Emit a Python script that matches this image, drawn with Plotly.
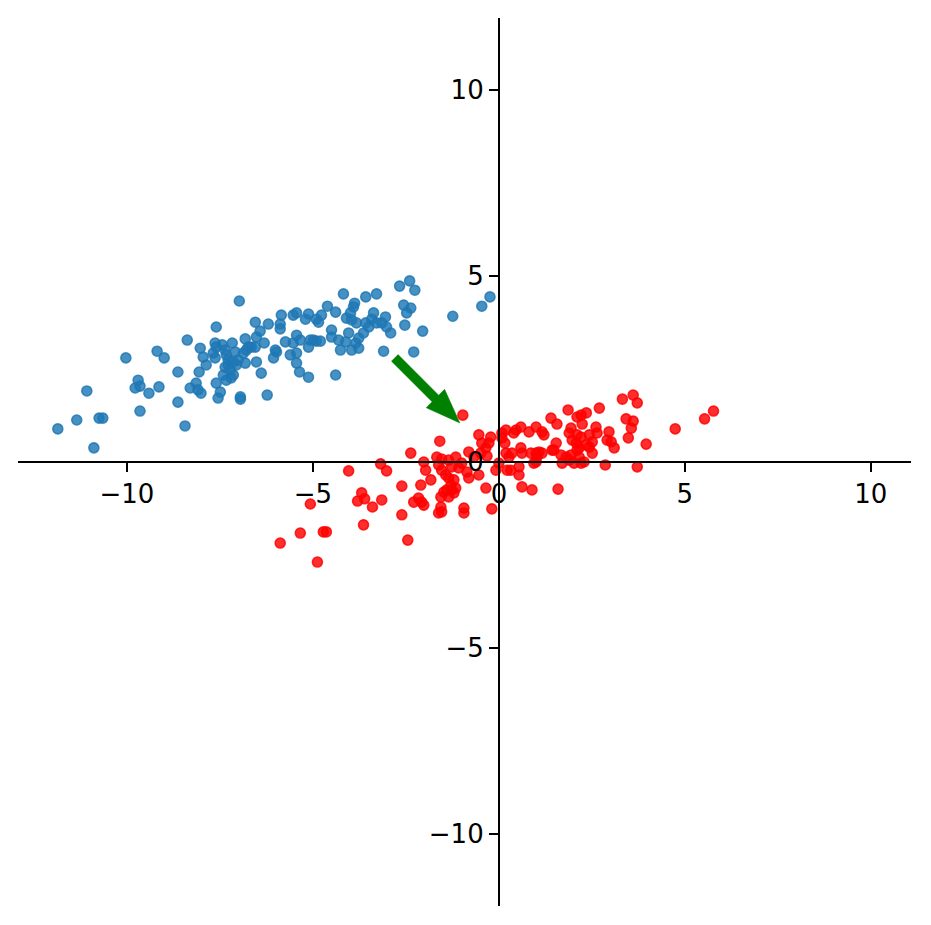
import numpy as np
import plotly.graph_objects as go

# ---- data ----
blue_x = [-11.86, -11.35, -11.08, -10.89, -10.75, -10.65, -10.03, -9.78, -9.70, -9.65,
          -9.65, -9.41, -9.19, -9.14, -9.00, -8.63, -8.63, -8.44, -8.38, -8.30,
          -8.14, -8.09, -8.01, -8.06, -8.03, -7.95, -7.87, -7.60, -7.60, -7.49,
          -7.55, -6.95, -6.95, -6.98, -6.23, -6.55, -6.20, -5.85, -5.53, -5.44,
          -5.12, -5.20, -5.88, -5.88, -6.42, -6.52, -6.82, -6.31, -6.55, -6.74,
          -7.17, -7.44, -7.63, -7.60, -7.68, -7.63, -7.36, -7.33, -7.28, -7.28,
          -7.09, -7.01, -7.06, -6.87, -6.79, -6.66, -6.52, -6.82, -7.14, -7.41,
          -7.33, -7.20, -7.14, -7.36, -7.22, -6.39, -6.01, -5.98, -6.06, -5.74,
          -5.53, -5.44, -5.34, -5.61, -5.44, -5.44, -5.36, -5.12, -5.07, -5.12,
          -4.18, -3.29, -3.58, -3.88, -3.91, -4.61, -4.39, -4.77, -4.85, -4.91,
          -3.99, -4.10, -3.96, -3.37, -3.42, -3.29, -3.05, -3.02, -2.91, -3.83,
          -3.58, -3.50, -3.64, -3.77, -3.85, -3.77, -4.04, -4.50, -4.50, -4.99,
          -4.91, -4.80, -4.31, -4.26, -4.12, -3.96, -3.10, -4.39, -2.67, -2.40,
          -2.26, -2.56, -2.37, -2.48, -3.15, -2.53, -2.05, -1.24, -0.46, -0.24,
          -2.29]
blue_y = [0.89, 1.13, 1.91, 0.38, 1.18, 1.18, 2.80, 1.99, 2.20, 2.04,
          1.37, 1.85, 2.98, 2.02, 2.80, 2.42, 1.61, 0.97, 3.28, 1.99,
          2.12, 1.94, 1.85, 2.42, 3.06, 2.82, 2.61, 3.63, 2.12, 1.88,
          1.72, 1.75, 1.69, 4.33, 1.80, 3.76, 3.71, 3.95, 3.95, 4.01,
          3.98, 3.84, 3.71, 3.58, 3.52, 3.36, 3.31, 3.20, 3.09, 3.09,
          3.20, 3.15, 3.20, 3.09, 2.93, 2.80, 3.01, 2.88, 2.74, 2.61,
          2.96, 2.74, 2.61, 2.93, 3.01, 3.09, 2.69, 2.66, 2.69, 2.34,
          2.20, 2.26, 2.34, 2.55, 2.47, 2.39, 3.01, 2.96, 2.80, 3.23,
          3.20, 3.41, 3.28, 2.88, 2.93, 2.66, 2.42, 3.09, 3.28, 2.28,
          4.52, 4.52, 4.44, 4.27, 4.17, 4.19, 4.03, 3.95, 3.76, 3.84,
          4.01, 3.87, 3.82, 4.01, 3.84, 3.74, 3.90, 3.63, 3.47, 3.74,
          3.74, 3.63, 3.47, 3.33, 3.20, 3.06, 3.47, 3.55, 3.36, 3.28,
          3.25, 3.25, 3.28, 3.01, 3.23, 3.01, 2.98, 2.34, 4.73, 4.87,
          4.62, 4.22, 4.14, 4.01, 3.74, 3.68, 3.52, 3.92, 4.19, 4.44,
          2.96]

red_x = [-0.97, -1.59, -2.37, -0.54, -0.22, 0.08, 0.19, -0.46, -0.35, -0.49,
         -0.81, -0.67, -0.32, 0.19, -2.02, -1.67, -1.54, -1.62, -1.35, -1.16,
         -1.27, -1.08, -1.00, -1.97, -1.83, -2.10, -2.61, -1.54, -1.43, -1.35,
         -1.21, -1.29, -1.40, -1.48, -1.56, -1.27, -1.21, -1.35, -1.16, -0.81,
         -0.86, -0.54, -0.35, -2.29, -2.16, -2.02, -2.08, -1.56, -1.54, -1.62,
         -0.94, -0.94, -0.19, -2.61, 0.00, 0.27, 0.22, -0.08, -3.18, -3.02,
         -4.04, -3.69, -3.80, -3.61, -3.15, -3.40, -5.07, -3.64, -2.45, -5.34,
         -4.72, -4.64, -5.88, -4.88, 1.40, 1.56, 1.86, 2.10, 2.21, 2.35,
         2.24, 0.08, 0.16, 0.46, 0.59, 0.40, 0.81, 1.00, 1.16, 1.21,
         -0.27, 1.94, 1.89, 1.97, 2.08, 2.10, 2.21, 2.16, 2.43, 2.61,
         2.51, 1.54, 1.48, 0.35, 0.59, 0.62, 0.86, 1.00, 1.08, 1.16,
         1.02, 1.43, 1.67, 1.81, 1.89, 1.94, 2.10, 2.16, 2.21, 2.29,
         0.32, 0.54, 0.54, 1.00, 0.94, 1.70, 2.02, 2.43, 2.51, 2.70,
         3.32, 3.61, 3.72, 3.42, 3.61, 3.56, 3.48, 3.96, 4.74, 5.53,
         5.77, 2.86, 3.72, 1.59, 0.89, 0.62, 2.96, 3.02, 3.10, 2.64,
         2.35, 2.91]
red_y = [1.26, 0.56, 0.24, 0.73, 0.67, 0.78, 0.86, 0.51, 0.38, 0.24,
         0.27, 0.13, 0.16, 0.24, 0.00, 0.13, 0.08, -0.08, 0.05, 0.13,
         -0.13, -0.16, -0.03, -0.22, -0.48, -0.62, -0.65, -0.22, -0.35, -0.43,
         -0.48, -0.62, -0.75, -0.81, -0.94, -0.75, -0.83, -0.94, -0.70, -0.43,
         -0.27, -0.35, -0.70, -1.08, -0.97, -1.16, -1.08, -1.21, -1.34, -1.37,
         -1.24, -1.37, -1.26, -1.42, -0.03, 0.13, -0.22, -0.22, -0.05, -0.24,
         -0.24, -0.83, -1.05, -0.99, -1.02, -1.21, -1.13, -1.69, -2.10, -1.91,
         -1.88, -1.88, -2.18, -2.69, 1.18, 1.02, 1.40, 1.21, 1.26, 1.32,
         1.02, 0.65, 0.51, 0.86, 0.94, 0.78, 0.81, 0.94, 0.81, 0.73,
         0.51, 0.91, 0.78, 0.59, 0.51, 0.73, 0.67, 0.38, 0.73, 0.94,
         0.54, 0.51, 0.32, 0.24, 0.38, 0.24, 0.24, 0.24, 0.27, 0.24,
         0.13, 0.32, 0.19, 0.13, 0.05, 0.19, 0.32, 0.13, -0.03, 0.00,
         -0.22, -0.13, -0.35, 0.00, -0.03, -0.03, -0.03, 0.40, 0.24, 1.45,
         1.69, 1.80, 1.59, 1.16, 1.10, 0.91, 0.65, 0.48, 0.89, 1.16,
         1.37, -0.08, -0.13, -0.73, -0.75, -0.67, 0.81, 0.54, 0.38, 0.78,
         0.46, 0.59]

arrow_tail = (-2.80, 2.80)
arrow_tip = (-1.05, 1.05)
arrow_width = 0.25
arrow_head_width = 0.70
arrow_head_length = 0.93

tick_vals = [-10, -5, 0, 5, 10]
tick_text = ["\u221210", "\u22125", "0", "5", "10"]

x_range = [-12.93, 11.08]
y_range = [-11.94, 11.94]

# ---- arrow polygon from its parameters ----
t = np.array(arrow_tail)
p = np.array(arrow_tip)
u = (p - t) / np.linalg.norm(p - t)
n = np.array([-u[1], u[0]])
base = p - arrow_head_length * u
poly = [t + n * arrow_width / 2, base + n * arrow_width / 2,
        base + n * arrow_head_width / 2, p,
        base - n * arrow_head_width / 2, base - n * arrow_width / 2,
        t - n * arrow_width / 2, t + n * arrow_width / 2]
ax_ = [q[0] for q in poly]
ay_ = [q[1] for q in poly]

fig = go.Figure()
fig.add_trace(go.Scatter(
    x=blue_x, y=blue_y, mode="markers",
    marker=dict(size=10, color="rgba(31,119,180,0.82)",
                line=dict(width=1.6, color="rgba(31,119,180,0.82)")),
    hoverinfo="skip", showlegend=False))
fig.add_trace(go.Scatter(
    x=red_x, y=red_y, mode="markers",
    marker=dict(size=10, color="rgba(255,0,0,0.82)",
                line=dict(width=1.6, color="rgba(255,0,0,0.82)")),
    hoverinfo="skip", showlegend=False))
fig.add_trace(go.Scatter(
    x=ax_, y=ay_, mode="lines", fill="toself",
    fillcolor="#008000", line=dict(color="#008000", width=0.5),
    hoverinfo="skip", showlegend=False))

y0_pos = (0 - y_range[0]) / (y_range[1] - y_range[0])
x0_pos = (0 - x_range[0]) / (x_range[1] - x_range[0])

axis_common = dict(
    showgrid=False, zeroline=False, showline=True, linecolor="black",
    linewidth=2, ticks="outside", ticklen=9, tickwidth=2, tickcolor="black",
    tickvals=tick_vals, ticktext=tick_text,
    tickfont=dict(family="DejaVu Sans", size=26, color="black"),
    anchor="free",
)

# page body has an 8px default margin; compensate in the figure margins
fig.update_layout(
    width=923, height=917,
    margin=dict(l=10, r=20, t=10, b=19),
    paper_bgcolor="white", plot_bgcolor="white",
    xaxis=dict(range=x_range, position=y0_pos, ticklabelstandoff=0, **axis_common),
    yaxis=dict(range=y_range, position=x0_pos, ticklabelstandoff=0, **axis_common),
)

fig.write_html("out.html")
